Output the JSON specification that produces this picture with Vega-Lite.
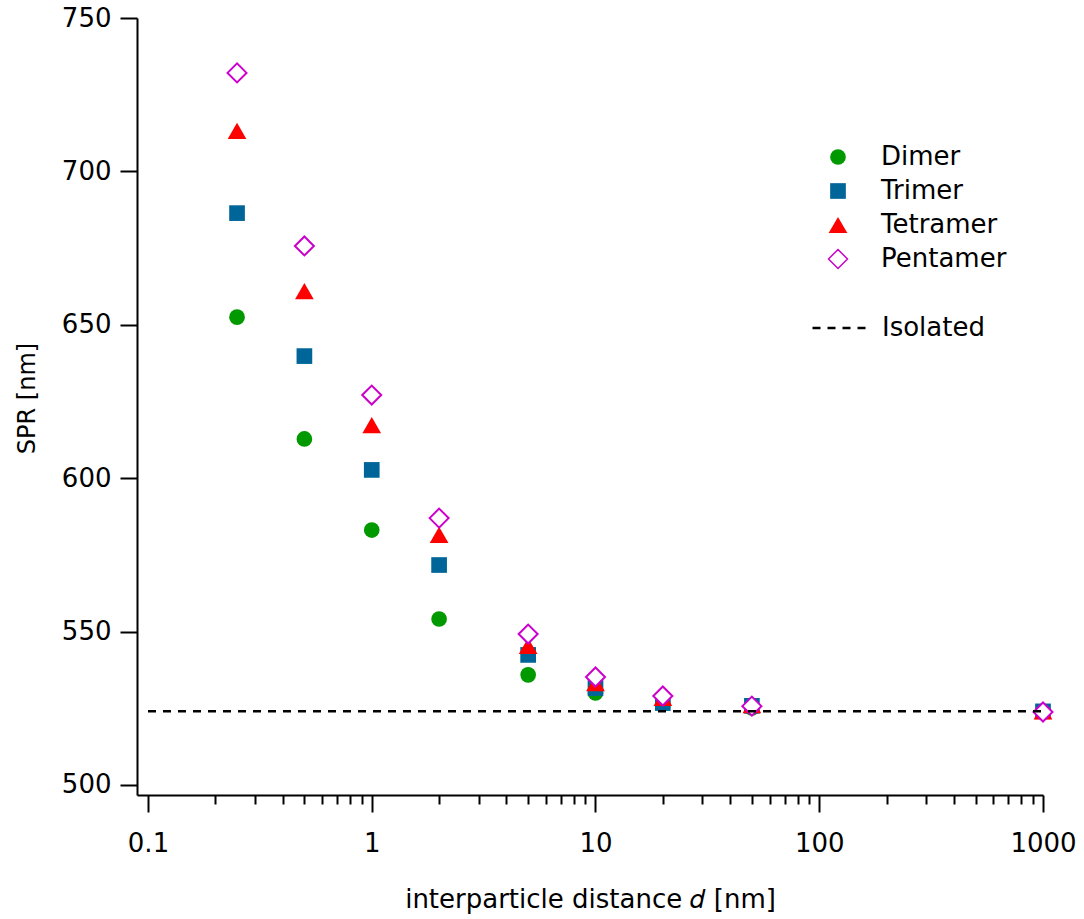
{
  "$schema": "https://vega.github.io/schema/vega-lite/v6.json",
  "width": 906,
  "height": 777,
  "autosize": {"type": "none"},
  "padding": {"left": 137, "top": 18, "right": 41, "bottom": 124},
  "background": "white",
  "config": {
    "view": {"stroke": null},
    "font": "DejaVu Sans",
    "axis": {
      "domainColor": "black",
      "domainWidth": 2,
      "tickColor": "black",
      "tickWidth": 2,
      "labelColor": "black",
      "titleColor": "black",
      "labelFont": "DejaVu Sans",
      "titleFont": "DejaVu Sans",
      "labelFontSize": 26,
      "titleFontSize": 24,
      "titleFontWeight": "normal",
      "grid": false
    },
    "legend": {
      "labelFont": "DejaVu Sans",
      "labelFontSize": 26,
      "labelColor": "black"
    }
  },
  "datasets": {
    "spr": [
      {"series": "Dimer", "d": 0.25, "spr": 652.5},
      {"series": "Dimer", "d": 0.5, "spr": 612.8},
      {"series": "Dimer", "d": 1, "spr": 583.1},
      {"series": "Dimer", "d": 2, "spr": 554.1},
      {"series": "Dimer", "d": 5, "spr": 535.9},
      {"series": "Dimer", "d": 10, "spr": 530.0},
      {"series": "Dimer", "d": 20, "spr": 526.4},
      {"series": "Dimer", "d": 50, "spr": 525.1},
      {"series": "Dimer", "d": 1000, "spr": 523.8},
      {"series": "Trimer", "d": 0.25, "spr": 686.4},
      {"series": "Trimer", "d": 0.5, "spr": 639.8},
      {"series": "Trimer", "d": 1, "spr": 602.7},
      {"series": "Trimer", "d": 2, "spr": 571.7},
      {"series": "Trimer", "d": 5, "spr": 542.4},
      {"series": "Trimer", "d": 10, "spr": 531.6},
      {"series": "Trimer", "d": 20, "spr": 526.7},
      {"series": "Trimer", "d": 50, "spr": 525.8},
      {"series": "Trimer", "d": 1000, "spr": 524.0},
      {"series": "Tetramer", "d": 0.25, "spr": 713.2},
      {"series": "Tetramer", "d": 0.5, "spr": 661.0},
      {"series": "Tetramer", "d": 1, "spr": 617.3},
      {"series": "Tetramer", "d": 2, "spr": 581.5},
      {"series": "Tetramer", "d": 5, "spr": 545.3},
      {"series": "Tetramer", "d": 10, "spr": 533.2},
      {"series": "Tetramer", "d": 20, "spr": 528.4},
      {"series": "Tetramer", "d": 50, "spr": 526.0},
      {"series": "Tetramer", "d": 1000, "spr": 524.0},
      {"series": "Pentamer", "d": 0.25, "spr": 732.1},
      {"series": "Pentamer", "d": 0.5, "spr": 675.7},
      {"series": "Pentamer", "d": 1, "spr": 627.1},
      {"series": "Pentamer", "d": 2, "spr": 587.0},
      {"series": "Pentamer", "d": 5, "spr": 549.2},
      {"series": "Pentamer", "d": 10, "spr": 535.2},
      {"series": "Pentamer", "d": 20, "spr": 529.0},
      {"series": "Pentamer", "d": 50, "spr": 525.7},
      {"series": "Pentamer", "d": 1000, "spr": 523.8}
    ],
    "isolated": [
      {"label": "Isolated", "from": 0.1, "to": 1000, "spr": 524}
    ]
  },
  "layer": [
    {
      "data": {"name": "spr"},
      "mark": {"type": "point", "filled": false, "strokeWidth": 2, "opacity": 1},
      "encoding": {
        "x": {
          "field": "d",
          "type": "quantitative",
          "scale": {"type": "log", "domain": [0.0893, 1000], "nice": false},
          "axis": {
            "title": "interparticle distance 𝑑 [nm]",
            "titleFontSize": 26,
            "values": [0.1, 0.2, 0.3, 0.4, 0.5, 0.6, 0.7, 0.8, 0.9, 1, 2, 3, 4, 5, 6, 7, 8, 9, 10, 20, 30, 40, 50, 60, 70, 80, 90, 100, 200, 300, 400, 500, 600, 700, 800, 900, 1000],
            "format": "~g",
            "labelExpr": "abs(log(datum.value)/LN10 - round(log(datum.value)/LN10)) < 0.000001 ? datum.label : ''",
            "tickSize": {"condition": {"test": "abs(log(datum.value)/LN10 - round(log(datum.value)/LN10)) < 0.000001", "value": 17}, "value": 9},
            "labelPadding": 18,
            "labelFlush": false,
            "labelOverlap": false,
            "titlePadding": 30
          }
        },
        "y": {
          "field": "spr",
          "type": "quantitative",
          "scale": {"domain": [496.74, 750], "nice": false, "zero": false},
          "axis": {
            "title": "SPR [nm]",
            "values": [500, 550, 600, 650, 700, 750],
            "tickSize": 17,
            "labelPadding": 9,
            "labelFlush": false,
            "titlePadding": 22,
            "titleY": 380
          }
        },
        "shape": {
          "field": "series",
          "type": "nominal",
          "scale": {"domain": ["Dimer", "Trimer", "Tetramer", "Pentamer"], "range": ["circle", "square", "triangle-up", "diamond"]},
          "legend": {"title": null, "orient": "none", "legendX": 688, "legendY": 126, "rowPadding": 8, "labelOffset": 30, "padding": 0}
        },
        "fill": {
          "field": "series",
          "type": "nominal",
          "scale": {"domain": ["Dimer", "Trimer", "Tetramer", "Pentamer"], "range": ["#009900", "#006699", "#FF0000", "white"]},
          "legend": {"title": null, "orient": "none", "legendX": 688, "legendY": 126, "rowPadding": 8, "labelOffset": 30, "padding": 0}
        },
        "stroke": {
          "field": "series",
          "type": "nominal",
          "scale": {"domain": ["Dimer", "Trimer", "Tetramer", "Pentamer"], "range": ["transparent", "transparent", "transparent", "#CC00CC"]},
          "legend": {"title": null, "orient": "none", "legendX": 688, "legendY": 126, "rowPadding": 8, "labelOffset": 30, "padding": 0}
        },
        "size": {
          "field": "series",
          "type": "nominal",
          "scale": {"type": "ordinal", "domain": ["Dimer", "Trimer", "Tetramer", "Pentamer"], "range": [246, 246, 350, 361]},
          "legend": {"title": null, "orient": "none", "legendX": 688, "legendY": 126, "rowPadding": 8, "labelOffset": 30, "padding": 0}
        }
      }
    },
    {
      "data": {"name": "isolated"},
      "mark": {"type": "rule", "color": "black", "strokeWidth": 2.5},
      "encoding": {
        "x": {"field": "from", "type": "quantitative"},
        "x2": {"field": "to"},
        "y": {"field": "spr", "type": "quantitative"},
        "strokeDash": {
          "field": "label",
          "type": "nominal",
          "scale": {"domain": ["Isolated"], "range": [[8, 7]]},
          "legend": {"title": null, "orient": "none", "legendX": 674, "legendY": 281, "symbolType": "stroke", "symbolSize": 3025, "symbolStrokeWidth": 2.5, "symbolStrokeColor": "black", "labelOffset": 13, "padding": 0}
        }
      }
    }
  ]
}
